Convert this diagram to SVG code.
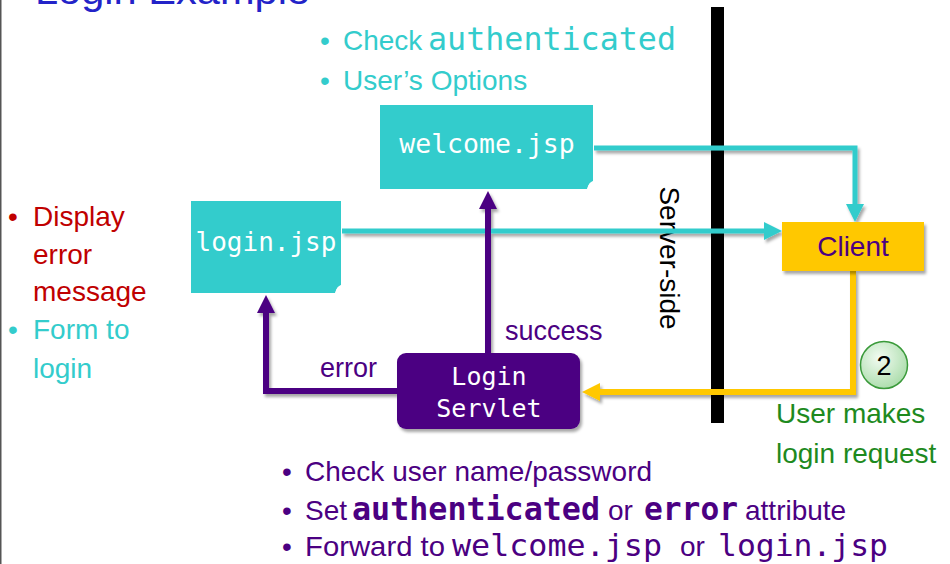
<svg xmlns="http://www.w3.org/2000/svg" width="950" height="564" viewBox="0 0 950 564">
<defs>
<style>
.sans{font-family:"Liberation Sans",Arial,sans-serif;}
.mono{font-family:"DejaVu Sans Mono","Liberation Mono",monospace;}
.cyan{fill:#33CCCC;}
.purple{fill:#4B0082;}
.red{fill:#C00000;}
.green{fill:#1E8A1E;}
.jsp{fill:#33CCCC;}
.boxtext{fill:#FFFFFF;}
.cline{fill:none;stroke:#33CCCC;stroke-width:5;}
.pline{fill:none;stroke:#4B0082;stroke-width:6;}
.yline{fill:none;stroke:#FFC800;stroke-width:6;}
</style>
<filter id="sh" x="-20%" y="-20%" width="140%" height="140%">
<feDropShadow dx="2" dy="3" stdDeviation="1.5" flood-color="#000" flood-opacity="0.35"/>
</filter>
<radialGradient id="gg" cx="40%" cy="35%" r="70%">
<stop offset="0" stop-color="#F2FBF2"/>
<stop offset="1" stop-color="#A9DCA9"/>
</radialGradient>
<marker id="ac" markerUnits="userSpaceOnUse" markerWidth="20" markerHeight="20" refX="0" refY="9" orient="auto">
<path d="M0,0 L18,9 L0,18 z" fill="#33CCCC"/>
</marker>
<marker id="ap" markerUnits="userSpaceOnUse" markerWidth="20" markerHeight="20" refX="0" refY="9" orient="auto">
<path d="M0,0 L18,9 L0,18 z" fill="#4B0082"/>
</marker>
<marker id="ay" markerUnits="userSpaceOnUse" markerWidth="20" markerHeight="20" refX="0" refY="9" orient="auto">
<path d="M0,0 L18,9 L0,18 z" fill="#FFC800"/>
</marker>
</defs>
<rect x="0" y="0" width="950" height="564" fill="#FFFFFF"/>
<rect x="0" y="0" width="1.5" height="564" fill="#555555"/>

<!-- title (cut off at top, as in the reference) -->
<text class="sans" x="35" y="4" font-size="38" fill="#2323C8" textLength="275" lengthAdjust="spacingAndGlyphs">Login Example</text>

<!-- top bullets -->
<g id="welcome-notes">
<text class="sans cyan" x="320" y="50" font-size="28">•</text>
<text class="sans cyan" x="343" y="50" font-size="28">Check</text>
<text class="mono cyan" x="428" y="50" font-size="31.5" textLength="248" lengthAdjust="spacingAndGlyphs">authenticated</text>
<text class="sans cyan" x="320" y="90" font-size="28">•</text>
<text class="sans cyan" x="343" y="90" font-size="28">User’s Options</text>
</g>

<!-- left bullets -->
<g id="login-notes">
<text class="sans red" x="8" y="226" font-size="28">•</text>
<text class="sans red" x="33" y="226" font-size="28">Display</text>
<text class="sans red" x="33" y="264" font-size="28">error</text>
<text class="sans red" x="33" y="301" font-size="28">message</text>
<text class="sans cyan" x="8" y="339" font-size="28">•</text>
<text class="sans cyan" x="33" y="339" font-size="28">Form to</text>
<text class="sans cyan" x="33" y="378" font-size="28">login</text>
</g>

<!-- server-side divider -->
<g id="divider">
<text class="sans" font-size="28" fill="#000000" text-anchor="middle" transform="translate(660,258) rotate(90)">Server-side</text>
<rect x="711" y="7" width="13" height="416" fill="#000000"/>
</g>

<!-- connectors -->
<g id="connectors">
<g filter="url(#sh)">
<path class="cline" d="M594,148 H855 V204" marker-end="url(#ac)"/>
<path class="cline" d="M342,231 H764" marker-end="url(#ac)"/>
<path class="yline" d="M853,271 V392 H600" marker-end="url(#ay)"/>
<path class="pline" d="M488,353 V209" marker-end="url(#ap)"/>
<path class="pline" d="M397,391 H266 V313" marker-end="url(#ap)"/>
</g>
<text class="sans purple" x="505" y="340" font-size="27">success</text>
<text class="sans purple" x="320" y="377" font-size="27">error</text>
</g>

<!-- nodes -->
<g id="welcome-jsp">
<path class="jsp" d="M380,105 H593 V181 Q589,182 587,189 H380 Z"/>
<path d="M593,182 Q589,183 588,189" fill="none" stroke="#FFFFFF" stroke-width="1.2"/>
<text class="mono boxtext" x="487" y="153" font-size="26.5" text-anchor="middle">welcome.jsp</text>
</g>

<g id="login-jsp">
<path class="jsp" d="M191,201 H341 V285 Q337,286 335,293 H191 Z"/>
<path d="M341,286 Q337,287 336,293" fill="none" stroke="#FFFFFF" stroke-width="1.2"/>
<text class="mono boxtext" x="266" y="251" font-size="26" text-anchor="middle">login.jsp</text>
</g>

<g id="client">
<rect x="782" y="222" width="142" height="49" fill="#FFC800" filter="url(#sh)"/>
<text class="sans purple" x="853" y="256" font-size="28" text-anchor="middle">Client</text>
</g>

<g id="login-servlet">
<rect x="397" y="353" width="183" height="76" rx="9" ry="9" fill="#4B0082" filter="url(#sh)"/>
<text class="mono boxtext" x="489" y="385" font-size="25" text-anchor="middle">Login</text>
<text class="mono boxtext" x="489" y="417" font-size="25" text-anchor="middle">Servlet</text>
</g>

<g id="step-2">
<circle cx="884" cy="365" r="23.5" fill="url(#gg)" stroke="#3A9A3A" stroke-width="1.5"/>
<text class="sans" x="884" y="375" font-size="27" fill="#000000" text-anchor="middle">2</text>
<text class="sans green" x="776" y="423" font-size="28">User makes</text>
<text class="sans green" x="776" y="463" font-size="28">login request</text>
</g>

<!-- bottom bullets -->
<g id="servlet-notes">
<text class="sans purple" x="282" y="481" font-size="28">•</text>
<text class="sans purple" x="305" y="481" font-size="28">Check user name/password</text>
<text class="sans purple" x="282" y="520" font-size="28">•</text>
<text class="sans purple" x="305" y="520" font-size="28">Set</text>
<text class="mono purple" x="352" y="520" font-size="31.5" font-weight="bold" textLength="248" lengthAdjust="spacingAndGlyphs">authenticated</text>
<text class="sans purple" x="608" y="520" font-size="28">or</text>
<text class="mono purple" x="644" y="520" font-size="31.5" font-weight="bold" textLength="94" lengthAdjust="spacingAndGlyphs">error</text>
<text class="sans purple" x="745" y="520" font-size="28">attribute</text>
<text class="sans purple" x="282" y="556" font-size="28">•</text>
<text class="sans purple" x="305" y="556" font-size="28" textLength="140" lengthAdjust="spacingAndGlyphs">Forward to</text>
<text class="mono purple" x="452" y="556" font-size="30" textLength="210" lengthAdjust="spacingAndGlyphs">welcome.jsp</text>
<text class="sans purple" x="680" y="556" font-size="28">or</text>
<text class="mono purple" x="718" y="556" font-size="30" textLength="170" lengthAdjust="spacingAndGlyphs">login.jsp</text>
</g>
</svg>
